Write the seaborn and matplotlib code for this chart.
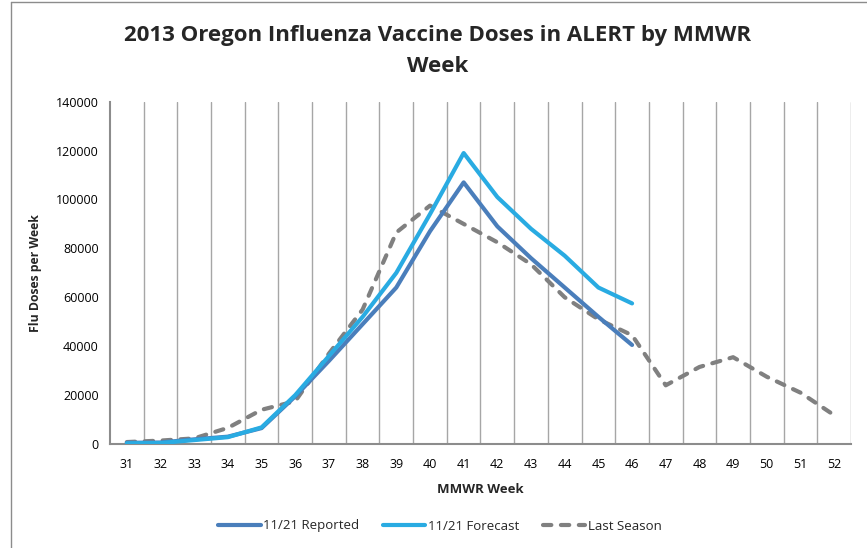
import numpy as np
import pandas as pd
import matplotlib
matplotlib.use("Agg")
import matplotlib.pyplot as plt
from matplotlib.lines import Line2D
import seaborn as sns

# dados
semanas = list(range(31, 53))
semanas_atual = list(range(31, 47))
reportado = [500, 600, 1900, 3000, 6500, 19500, 34000, 49000, 64000, 87000,
             107000, 89000, 76000, 64000, 52000, 40500]
previsao = [300, 400, 1600, 2800, 6800, 20000, 36000, 52000, 70000, 94000,
            119000, 101000, 88000, 77000, 64000, 57500]
ultima_temporada = [800, 1400, 2300, 6600, 14000, 17500, 37000, 55000, 86500, 97500,
                    90000, 82500, 73500, 60000, 51000, 44500, 24000, 31500, 35500,
                    27500, 21000, 11800]
y_ticks = [0, 20000, 40000, 60000, 80000, 100000, 120000, 140000]

sns.set_style("white")
plt.rcParams['font.family'] = ['Open Sans', 'DejaVu Sans']

fig = plt.figure(figsize=(8.67, 5.48), dpi=100)
ax = fig.add_axes([110 / 867, 1 - 444 / 548, (851 - 110) / 867, (444 - 101.7) / 548])

cinza_grade = '#a6a6a6'

sns.lineplot(x=semanas, y=ultima_temporada, ax=ax, color='#808080', lw=3.0,
             linestyle=(0, (2.0, 2.3)), dash_capstyle='round', label='Last Season', zorder=3)
sns.lineplot(x=semanas_atual, y=reportado, ax=ax, color='#4a7ebb', lw=3.0,
             label='11/21 Reported', zorder=4)
sns.lineplot(x=semanas_atual, y=previsao, ax=ax, color='#29abe2', lw=3.0,
             label='11/21 Forecast', zorder=5)

ax.set_xlim(30.5, 52.5)
ax.set_ylim(0, 140000)
ax.set_xticks(semanas)
ax.set_xticklabels([str(s) for s in semanas], fontsize=9)
ax.set_xticks(np.arange(31.5, 53, 1), minor=True)
ax.set_yticks(y_ticks)
ax.set_yticklabels([str(v) for v in y_ticks], fontsize=9)
ax.tick_params(axis='y', which='both', length=0, pad=8, colors='black')
ax.tick_params(axis='x', which='both', length=0, pad=10, colors='black')
ax.grid(False)
ax.grid(which='minor', axis='x', color=cinza_grade, lw=1.0)

for lado in ['top', 'right']:
    ax.spines[lado].set_visible(False)
for lado in ['left', 'bottom']:
    ax.spines[lado].set_color('#8c8c8c')
    ax.spines[lado].set_linewidth(1.5)

ax.set_xlabel('MMWR Week', fontsize=9.5, fontweight='bold', labelpad=9)
ax.set_ylabel('Flu Doses per Week', fontsize=8.8, fontweight='bold', labelpad=10)

fig.text(438 / 867, 1 - 36 / 548, '2013 Oregon Influenza Vaccine Doses in ALERT by MMWR',
         ha='center', va='center', fontsize=16, fontweight='bold')
fig.text(438 / 867, 1 - 67 / 548, 'Week',
         ha='center', va='center', fontsize=16, fontweight='bold')

handles, labels = ax.get_legend_handles_labels()
ordem = [labels.index(l) for l in ['11/21 Reported', '11/21 Forecast', 'Last Season']]
ax.legend([handles[i] for i in ordem], [labels[i] for i in ordem],
          loc='center', bbox_to_anchor=(440 / 867, 1 - 526 / 548),
          bbox_transform=fig.transFigure, ncol=3, frameon=False, fontsize=9.5,
          handlelength=3.2, columnspacing=1.8, handletextpad=0.2)

# moldura externa (esquerda e topo)
fig.add_artist(Line2D([11 / 867, 11 / 867], [0, 1 - 2 / 548], color='#8c8c8c', lw=1.0))
fig.add_artist(Line2D([11 / 867, 1], [1 - 2 / 548, 1 - 2 / 548], color='#8c8c8c', lw=1.0))

fig.savefig('out.png', dpi=100)
